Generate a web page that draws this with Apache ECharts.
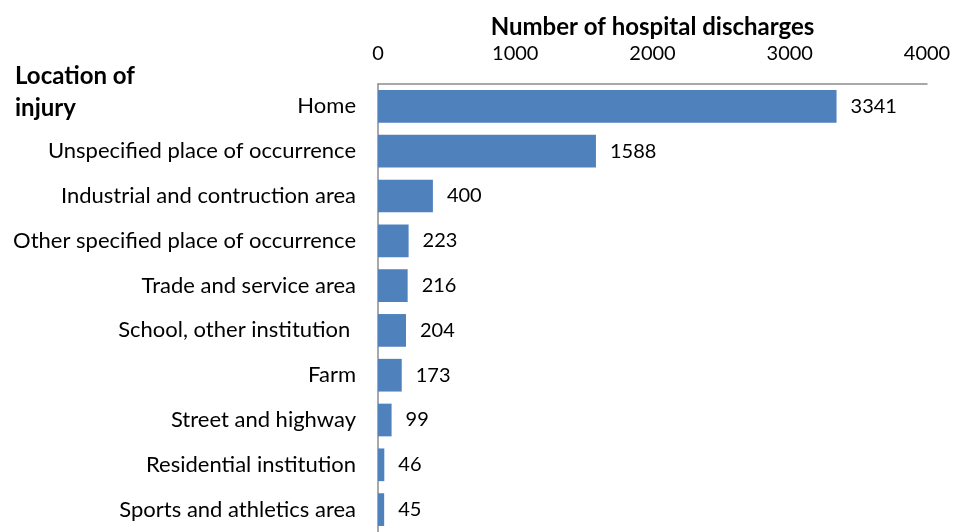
<!DOCTYPE html>
<html>
<head>
<meta charset="utf-8">
<script src="https://cdn.jsdelivr.net/npm/echarts@6/dist/echarts.min.js"></script>
<style>
  html, body { margin: 0; padding: 0; background: #fff; }
  #chart { width: 954px; height: 532px; }
</style>
</head>
<body>
<div id="chart"></div>
<script>
// categories top to bottom
const locations = [
  "Home",
  "Unspecified place of occurrence",
  "Industrial and contruction area",
  "Other specified place of occurrence",
  "Trade and service area",
  "School, other institution ",
  "Farm",
  "Street and highway",
  "Residential institution",
  "Sports and athletics area"
];
const discharges = [3341, 1588, 400, 223, 216, 204, 173, 99, 46, 45];
const xTicks = [0, 1000, 2000, 3000, 4000];

const fontFamily = "Lato, 'Open Sans', sans-serif";
const chart = echarts.init(document.getElementById("chart"));

chart.setOption({
  animation: false,
  title: {
    text: "Location of\ninjury",
    left: 10,
    top: 55,
    textStyle: {
      fontFamily: fontFamily,
      fontSize: 24,
      fontWeight: "bold",
      color: "#000",
      lineHeight: 32
    }
  },
  grid: {
    left: 378,
    top: 84,
    width: 549,
    height: 454
  },
  xAxis: {
    type: "value",
    position: "top",
    min: xTicks[0],
    max: xTicks[xTicks.length - 1],
    interval: 1000,
    name: "Number of hospital discharges",
    nameLocation: "middle",
    nameGap: 42,
    nameTextStyle: {
      fontFamily: fontFamily,
      fontSize: 24,
      fontWeight: "bold",
      color: "#000"
    },
    axisLine: { show: true, lineStyle: { color: "#8c8c8c", width: 1.5 } },
    axisTick: { show: false },
    splitLine: { show: false },
    axisLabel: {
      margin: 20,
      fontFamily: fontFamily,
      fontSize: 20,
      color: "#000",
      formatter: function (v) { return String(v); }
    }
  },
  yAxis: {
    type: "category",
    inverse: true,
    data: locations,
    axisLine: { show: true, lineStyle: { color: "#8c8c8c", width: 1.5 } },
    axisTick: { show: false },
    axisLabel: {
      margin: 22,
      fontFamily: fontFamily,
      fontSize: 22,
      color: "#000"
    }
  },
  series: [
    {
      type: "bar",
      data: discharges,
      barCategoryGap: "27%",
      itemStyle: { color: "#4f81bd" },
      label: {
        show: true,
        position: "right",
        distance: 14,
        fontFamily: fontFamily,
        fontSize: 20,
        color: "#000"
      }
    }
  ]
});
</script>
</body>
</html>
